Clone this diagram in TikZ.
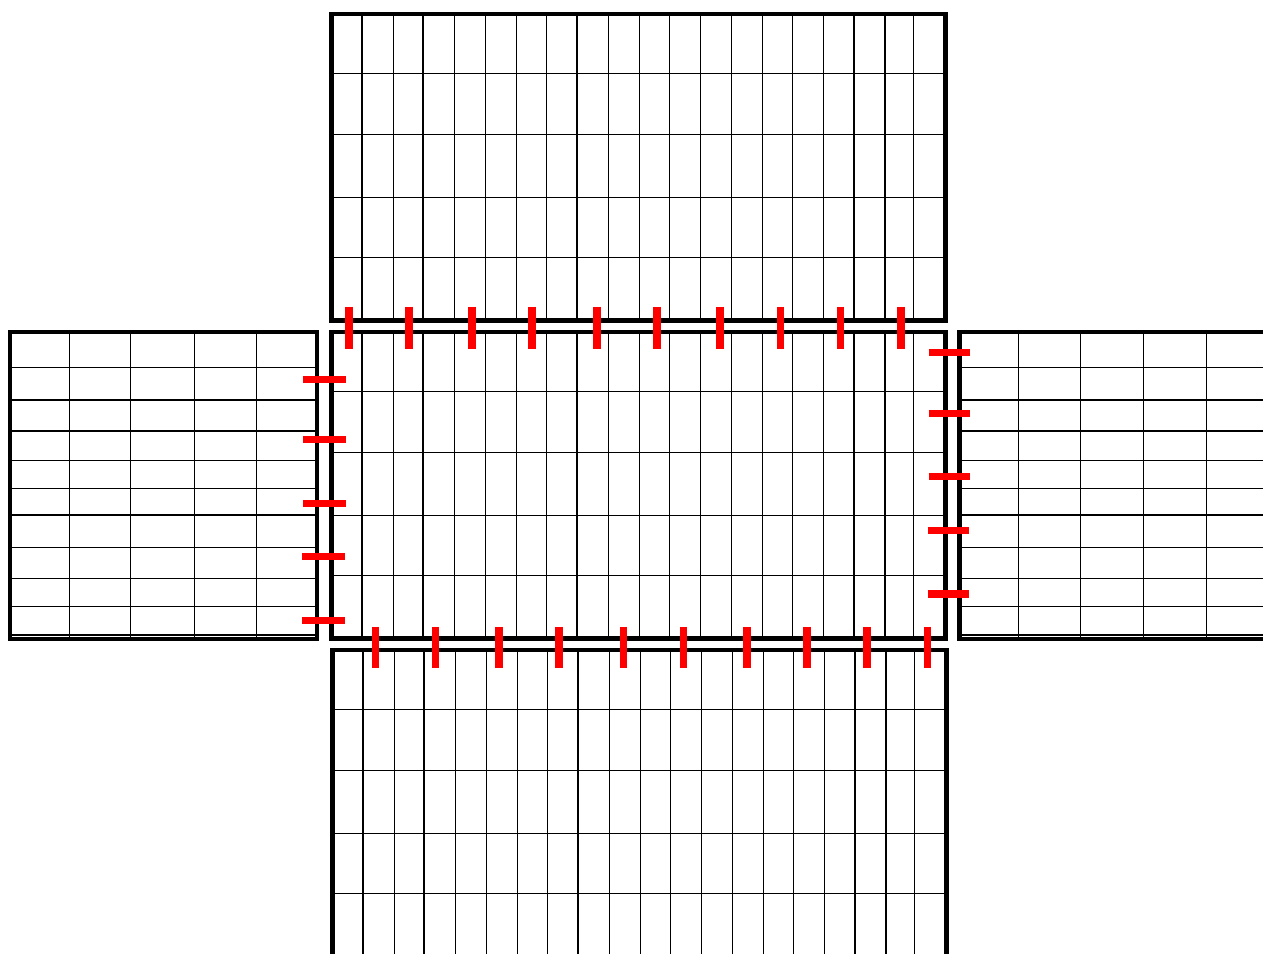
\documentclass[tikz,border=0pt]{standalone}
\begin{document}
\begin{tikzpicture}[x=1pt,y=-1pt,
  frame/.style={line width=4.5pt},
  gridline/.style={line width=1.2pt},
  redtick/.style={draw=red,line width=7.5pt}]
\useasboundingbox (0,0) rectangle (1263,953);
\clip (0,0) rectangle (1263,953);
% wide blocks: top, centre, bottom
\foreach \bx/\by in {331.5/13.8, 331.5/332, 332.5/650} {
  \begin{scope}[shift={(\bx,\by)}]
    \foreach \c in {30.5,61.8,91.5,122.8,154,184.8,215,245.5,277,308,337.8,368.6,400.3,431.2,461.2,492.2,522.5,553.5,581.8}
      \draw[gridline] (\c,0) -- (\c,306.5);
    \foreach \r in {59.5,120.5,183.5,243.5}
      \draw[gridline] (0,\r) -- (614,\r);
    \draw[frame] (0,0) rectangle (614,306.5);
  \end{scope}
}
% side blocks: left, right
\foreach \bx in {10, 959.5} {
  \begin{scope}[shift={(\bx,332)}]
    \foreach \c in {59.2,120.6,184.3,246.8}
      \draw[gridline] (\c,0) -- (\c,307);
    \foreach \r in {35.7,68,99,128.3,156.5,183,215.3,246.3,274.8,303}
      \draw[gridline] (0,\r) -- (307,\r);
    \draw[frame] (0,0) rectangle (307,307);
  \end{scope}
}
% red ticks
\foreach \x in {349,409,472,532,597,657,720,780.3,840.3,901}
  \draw[redtick] (\x,306.7) -- (\x,348.7);
\foreach \x in {375.7,435.7,499,559,623.7,683.7,747,807,867,927.7}
  \draw[redtick] (\x,626.7) -- (\x,668.3);
\foreach \y/\a in {379.3/303.3,439.3/303.3,503.3/303.3,556.7/302.3,620.7/302.3}
  \draw[redtick] (\a,\y) -- ({\a+42.4},\y);
\foreach \y/\a in {352.7/928.7,413.3/928.7,476.7/928.7,530.3/927.7,594/927.7}
  \draw[redtick] (\a,\y) -- ({\a+41.6},\y);
\end{tikzpicture}
\end{document}
